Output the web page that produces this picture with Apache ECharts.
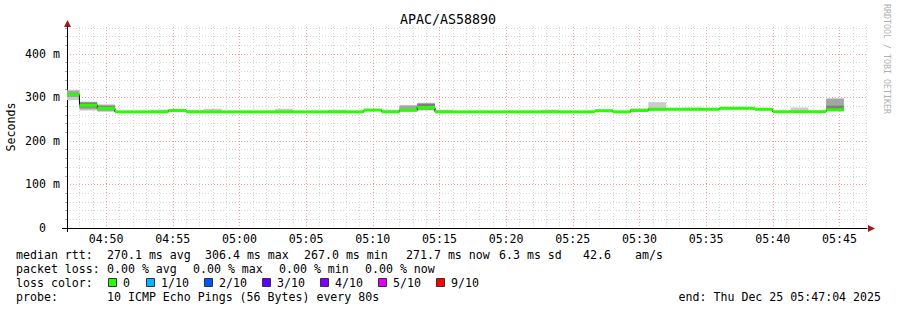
<!DOCTYPE html>
<html><head><meta charset="utf-8">
<script src="https://cdn.jsdelivr.net/npm/echarts@6/dist/echarts.min.js"></script>
<style>html,body{margin:0;padding:0;background:#fff}#c{width:897px;height:310px}</style>
</head><body><div id="c"></div>
<script>
// ---------------- data ----------------
const TITLE = 'APAC/AS58890';
const RANGE_START = '04:47:04';
const RANGE_END = '05:47:04';
const STEP_END_TIMES = ['04:48:00','04:49:20','04:50:40','04:52:00','04:53:20','04:54:40','04:56:00','04:57:20','04:58:40','05:00:00',
  '05:01:20','05:02:40','05:04:00','05:05:20','05:06:40','05:08:00','05:09:20','05:10:40','05:12:00','05:13:20',
  '05:14:40','05:16:00','05:17:20','05:18:40','05:20:00','05:21:20','05:22:40','05:24:00','05:25:20','05:26:40',
  '05:28:00','05:29:20','05:30:40','05:32:00','05:33:20','05:34:40','05:36:00','05:37:20','05:38:40','05:40:00',
  '05:41:20','05:42:40','05:44:00','05:45:20'];
// median rtt (ms)
const MEDIAN = [306.4,282,275,267,267,267,270,267,267,267,
  267,267,267,267,267,267,267,271,267,270.5,
  277,267,267,267,267,267,267,267,267,267,
  269.5,267,270,272.8,272.8,272.8,272.8,275,275,272.8,
  267.3,267.3,267.3,271.7];
// smoke: outer band (min..max ping)
const SMOKE_MIN = [294,270,267,267,267,266.5,269,266.5,266.5,267,
  267,267,266.5,267,267,266.5,267,269,266.5,268,
  270,266.5,267,267,267,267,267,266.5,267,267,
  268,267,269,270,272.8,271,272.8,275,275,272.8,
  267.3,266.5,267.3,268];
const SMOKE_MAX = [316,290,284,267,267,272,271,271,274,267,
  267,267,274,267,267,272,267,272,272,283,
  288,272,267,267,267,267,267,272,267,267,
  272,267,274.5,289,272.8,277,272.8,275,275,272.8,
  267.3,277,267.3,298];
// smoke: middle band
const SMOKE_MID_LO = [301,273,269,267,267,267,269.5,267,267,267,
  267,267,267,267,267,267,267,270,267,269,
  271,267,267,267,267,267,267,267,267,267,
  269,267,269.5,271,272.8,272.8,272.8,275,275,272.8,
  267.3,267.3,267.3,269];
const SMOKE_MID_HI = [316,290,283,267,267,267,270.5,267,267,267,
  267,267,267,267,267,267,267,271.5,267,281,
  287,267,267,267,267,267,267,267,267,267,
  270,267,274,276,272.8,272.8,272.8,275,275,272.8,
  267.3,267.3,267.3,297];
// smoke: inner band
const SMOKE_IN_LO = [304,277,272,267,267,267,270,267,267,267,
  267,267,267,267,267,267,267,271,267,270,
  273,267,267,267,267,267,267,267,267,267,
  269.5,267,270,272,272.8,272.8,272.8,275,275,272.8,
  267.3,267.3,267.3,270.5];
const SMOKE_IN_HI = [309,288,280,267,267,267,270,267,267,267,
  267,267,267,267,267,267,267,271,267,272,
  285,267,267,267,267,267,267,267,267,267,
  269.5,267,273,274,272.8,272.8,272.8,275,275,272.8,
  267.3,267.3,267.3,281];
const X_LABELS = ['04:50','04:55','05:00','05:05','05:10','05:15','05:20','05:25','05:30','05:35','05:40','05:45'];
const Y_LABELS = [0,100,200,300,400];
const Y_MAX = 462;
const Y_NAME = 'Seconds';
const STATS_MEDIAN = [['median rtt:',16],['270.1 ms avg',107],['306.4 ms max',205],['267.0 ms min',304],['271.7 ms now',406],['6.3 ms sd',499],['42.6',583],['am/s',635]];
const STATS_LOSS = [['packet loss:',16],['0.00 % avg',107],['0.00 % max',193],['0.00 % min',279],['0.00 % now',365]];
const LOSS_LABEL = 'loss color:';
const LOSS_ITEMS = [['0','#26ff00'],['1/10','#00b8ff'],['2/10','#0059ff'],['3/10','#5e00ff'],['4/10','#7e00ff'],['5/10','#dd00ff'],['9/10','#ff0000']];
const LOSS_X = [108,146,204,262,320,378,436];
const PROBE = [['probe:',16],['10 ICMP Echo Pings (56 Bytes) every 80s',107]];
const END_TEXT = 'end: Thu Dec 25 05:47:04 2025';
const WATERMARK = 'RRDTOOL / TOBI OETIKER';

// ---------------- build ----------------
const FONT = "'DejaVu Sans Mono', 'Liberation Mono', monospace";
const FS = 11.6;
const toSec = s => { const p = s.split(':').map(Number); return p[0]*3600 + p[1]*60 + (p[2]||0); };
const fmtHM = v => { const h = Math.floor(v/3600), m = Math.round((v%3600)/60); return String(h).padStart(2,'0') + ':' + String(m).padStart(2,'0'); };
const tStart = toSec(RANGE_START), tEnd = toSec(RANGE_END);
const ends = STEP_END_TIMES.map(toSec);
const starts = ends.map((e,i) => i === 0 ? tStart : ends[i-1]);
const majorX = X_LABELS.map(toSec);
const minorX = [];
for (let t = Math.ceil(tStart/60)*60; t <= tEnd; t += 60) if (t % 300 !== 0) minorX.push(t);
const minorY = [];
for (let v = 20; v <= Y_MAX; v += 20) if (v % 100 !== 0) minorY.push(v);
const majorY = Y_LABELS.filter(v => v > 0);

function band(lo, hi, color, z) {
  return {
    type: 'custom', z, silent: true, clip: true,
    data: ends.map((e,i) => [starts[i], e, lo[i], hi[i]]),
    encode: {x: [0,1], y: [2,3]},
    renderItem: (p, api) => {
      const a = api.coord([api.value(0), api.value(3)]);
      const b = api.coord([api.value(1), api.value(2)]);
      const h = b[1] - a[1];
      if (h < 0.2) return null;
      return {type: 'rect', shape: {x: a[0], y: a[1], width: b[0]-a[0], height: h}, style: {fill: color}};
    }
  };
}

const graphics = [];
const txt = (text, x, y, extra) => graphics.push(Object.assign({type: 'text', x, y, style: {text, font: FS + 'px ' + FONT, fill: '#000', verticalAlign: 'middle', align: 'left'}}, extra || {}));
txt(TITLE, 448, 19, {style: {text: TITLE, font: '13.3px ' + FONT, fill: '#000', align: 'center', verticalAlign: 'middle'}});
graphics.push({type: 'text', x: 11, y: 127, rotation: Math.PI/2, style: {text: Y_NAME, font: FS + 'px ' + FONT, fill: '#000', align: 'center', verticalAlign: 'middle'}});
graphics.push({type: 'text', x: 887, y: 59, rotation: -Math.PI/2, style: {text: WATERMARK, font: '8.3px ' + FONT, fill: '#b0b0b0', align: 'center', verticalAlign: 'middle'}});
STATS_MEDIAN.forEach(([t,x]) => txt(t, x, 255));
STATS_LOSS.forEach(([t,x]) => txt(t, x, 268.5));
txt(LOSS_LABEL, 16, 282.5);
LOSS_ITEMS.forEach(([t,c],i) => {
  graphics.push({type: 'rect', shape: {x: LOSS_X[i]+0.5, y: 278.5, width: 8, height: 8}, style: {fill: c, stroke: '#333', lineWidth: 1}});
  txt(t, LOSS_X[i] + 15, 282.5);
});
PROBE.forEach(([t,x]) => txt(t, x, 296.5));
graphics.push({type: 'text', x: 881, y: 296.5, style: {text: END_TEXT, font: FS + 'px ' + FONT, fill: '#000', align: 'right', verticalAlign: 'middle'}});
// axis extensions and arrows
graphics.push({type: 'line', shape: {x1: 62, y1: 228.5, x2: 67, y2: 228.5}, style: {stroke: '#000', lineWidth: 1}});
graphics.push({type: 'line', shape: {x1: 67.5, y1: 228, x2: 67.5, y2: 232}, style: {stroke: '#000', lineWidth: 1}});
graphics.push({type: 'polygon', shape: {points: [[64,27],[71,27],[67.5,20]]}, style: {fill: '#a01818'}});
graphics.push({type: 'polygon', shape: {points: [[868,225],[868,232],[875,228.5]]}, style: {fill: '#a01818'}});

const chart = echarts.init(document.getElementById('c'), null, {renderer: 'svg'});
chart.setOption({
  animation: false,
  backgroundColor: '#fff',
  grid: {left: 67, top: 27, width: 800, height: 201, containLabel: false},
  xAxis: [
    {type: 'value', min: tStart, max: tEnd, position: 'bottom',
     axisLine: {show: true, onZero: false, lineStyle: {color: '#000', width: 1}},
     axisTick: {show: false, customValues: minorX},
     axisLabel: {customValues: majorX, formatter: fmtHM, margin: 5, fontFamily: FONT, fontSize: FS, color: '#000'},
     splitLine: {show: true, lineStyle: {color: '#d6d6d6', type: [1,2], width: 1}}},
    {type: 'value', min: tStart, max: tEnd, position: 'bottom',
     axisLine: {show: false}, axisTick: {show: false, customValues: majorX}, axisLabel: {show: false},
     splitLine: {show: true, lineStyle: {color: '#f2a0a0', type: [1,2], width: 1}}}
  ],
  yAxis: [
    {type: 'value', min: 0, max: Y_MAX, position: 'left',
     axisLine: {show: true, onZero: false, lineStyle: {color: '#000', width: 1}},
     axisTick: {show: true, customValues: minorY, length: 2, lineStyle: {color: '#aaa'}},
     axisLabel: {customValues: Y_LABELS, formatter: v => v === 0 ? '0\u00a0\u00a0' : v + ' m', margin: 7, fontFamily: FONT, fontSize: FS, color: '#000'},
     splitLine: {show: true, lineStyle: {color: '#d6d6d6', type: [1,2], width: 1}}},
    {type: 'value', min: 0, max: Y_MAX, position: 'left',
     axisLine: {show: false}, axisTick: {show: false, customValues: majorY}, axisLabel: {show: false},
     splitLine: {show: true, lineStyle: {color: '#f2a0a0', type: [1,2], width: 1}}}
  ],
  series: [
    band(SMOKE_MIN, SMOKE_MAX, '#cacaca', 1),
    band(SMOKE_MID_LO, SMOKE_MID_HI, '#a4a4a4', 2),
    band(SMOKE_IN_LO, SMOKE_IN_HI, '#7e7e7e', 3),
    {type: 'line', step: 'start', symbol: 'none', z: 4, silent: true,
     lineStyle: {color: '#000', width: 1},
     data: [[tStart, MEDIAN[0]]].concat(ends.map((e,i) => [e, MEDIAN[i]]))},
    {type: 'custom', z: 5, silent: true, clip: true,
     data: ends.map((e,i) => [starts[i], e, MEDIAN[i]]),
     encode: {x: [0,1], y: 2},
     renderItem: (p, api) => {
       const a = api.coord([api.value(0), api.value(2)]);
       const b = api.coord([api.value(1), api.value(2)]);
       return {type: 'rect', shape: {x: a[0], y: a[1]-1.5, width: b[0]-a[0], height: 3}, style: {fill: '#26ff00'}};
     }}
  ],
  graphic: graphics
});
</script></body></html>
